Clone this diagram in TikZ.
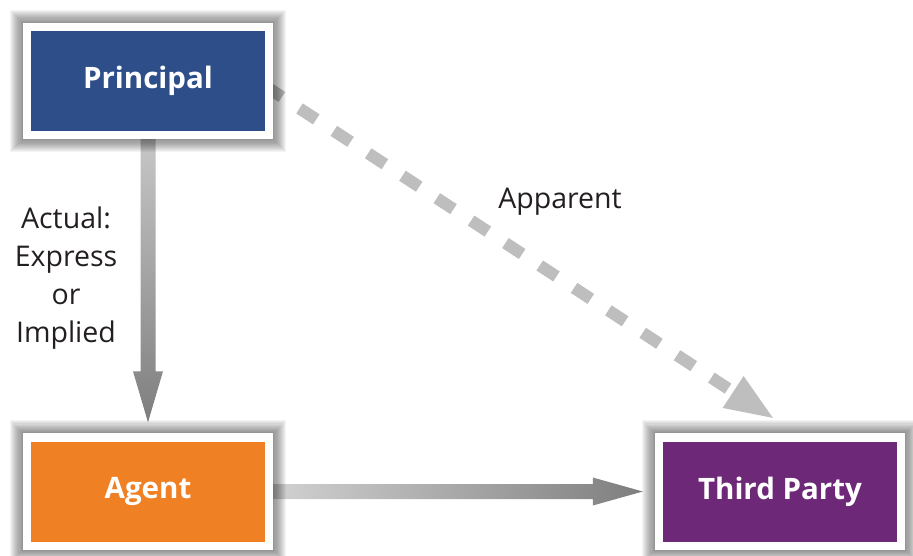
\documentclass[tikz,border=0pt]{standalone}
\usepackage{fontspec}
\setmainfont{Open Sans}
\usetikzlibrary{arrows.meta,calc,backgrounds}
\definecolor{pblue}{HTML}{2D4E88}
\definecolor{aorange}{HTML}{F08024}
\definecolor{tpurple}{HTML}{6E2878}
\definecolor{dashgray}{HTML}{BEBEBE}
\definecolor{arrlight}{HTML}{D2D2D2}
\definecolor{arrdark}{HTML}{7E7E7E}
\definecolor{txt}{HTML}{231F20}
\begin{document}
\begin{tikzpicture}[x=1pt,y=-1pt,
  box/.style={minimum width=234pt,minimum height=100pt,inner sep=0pt,text=white,
    font=\fontsize{29.5}{34}\selectfont\bfseries},
  lbl/.style={font=\fontsize{28.5}{38}\selectfont,text=txt,align=center,inner sep=0pt},
  dashline/.style={draw=dashgray,line width=12pt,dash pattern=on 20pt off 21pt,
    -{Triangle[length=50pt,width=34pt]}},
  shadebar/.style={draw=none}]
\useasboundingbox (0,0) rectangle (913,555);
\node[box,fill=pblue] (p) at (148,81) {Principal};
\node[box,fill=aorange] (a) at (148,491.5) {Agent};
\node[box,fill=tpurple] (t) at (780,491.5) {Third Party};
\node[lbl,anchor=base] (ap) at (560,208) {Apparent};
\node[lbl] (act) at (66,278) {Actual:\\Express\\or\\Implied};
\begin{scope}[on background layer]
  % connectors
  \coordinate (vs) at ([yshift=-4pt]p.south);
  \coordinate (ve) at ([yshift=19pt]a.north);
  \shade[shadebar,top color=arrlight!95!black,bottom color=arrdark]
    ($(vs)+(-7.5pt,0)$) -- ($(ve)+(-7.5pt,51pt)$) -- ($(ve)+(-15pt,51pt)$) -- (ve)
    -- ($(ve)+(15pt,51pt)$) -- ($(ve)+(7.5pt,51pt)$) -- ($(vs)+(7.5pt,0)$) -- cycle;
  \coordinate (hs) at ([xshift=4pt]a.east);
  \coordinate (he) at ([xshift=-20pt]t.west);
  \shade[shadebar,left color=arrlight,right color=arrdark]
    ($(hs)+(0,7.5pt)$) -- ($(he)+(-50pt,7.5pt)$) -- ($(he)+(-50pt,14pt)$) -- (he)
    -- ($(he)+(-50pt,-14pt)$) -- ($(he)+(-50pt,-7.5pt)$) -- ($(hs)+(0,-7.5pt)$) -- cycle;
  \draw[dashline] ([yshift=-5pt]p.east) -- ([xshift=-5pt,yshift=22pt]t.north);
  % shadows and white frames
  \foreach \n in {p,a,t}{
    \foreach \i [evaluate=\i as \d using 8+\i*1.1] in {1,...,12}{
      \fill[black,opacity=0.045] ([xshift={-\d*1pt},yshift={-\d*1pt}]\n.south west)
        rectangle ([xshift={\d*1pt},yshift={\d*1pt}]\n.north east);
    }
    \fill[white] ([xshift=-8pt,yshift=-8pt]\n.south west)
      rectangle ([xshift=8pt,yshift=8pt]\n.north east);
  }
\end{scope}
\end{tikzpicture}
\end{document}
